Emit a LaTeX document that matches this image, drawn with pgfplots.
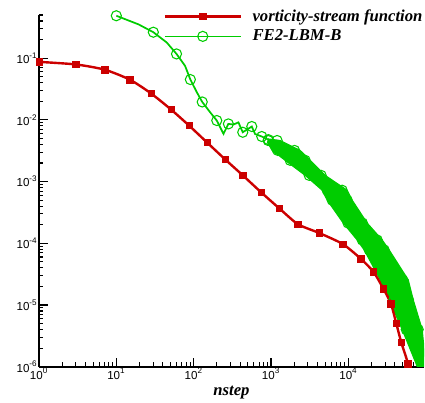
\documentclass[border=0pt]{standalone}
\usepackage{fontspec}
\setmainfont{Liberation Serif}
\setsansfont{Liberation Sans}
\usepackage{pgfplots}
\pgfplotsset{compat=1.18}
\definecolor{vred}{RGB}{204,0,0}
\definecolor{lgreen}{RGB}{0,204,0}

\begin{document}
\begin{tikzpicture}
\begin{axis}[
    scale only axis,
    width=289pt, height=264pt,
    xmode=log, ymode=log,
    log basis x=10, log basis y=10,
    xmin=1, xmax=9.5e4,
    ymin=1e-6, ymax=0.5,
    axis lines*=left,
    axis line style={line width=1.5pt},
    tick align=inside,
    major tick length=6.75pt,
    minor tick length=3.4pt,
    tick style={black, line width=0.8pt},
    ticklabel style={font=\sffamily\fontsize{8.7}{10}\selectfont},
    xticklabel={\pgfmathtruncatemacro{\e}{round(\tick)}10\textsuperscript{\e}},
    yticklabel={\pgfmathtruncatemacro{\e}{round(\tick)}10\textsuperscript{\e}},
    xticklabel style={inner ysep=1pt},
    yticklabel style={inner xsep=1pt},
    xlabel={\bfseries\itshape nstep},
    xlabel style={font=\fontsize{12.5}{14}\selectfont, inner sep=0pt, yshift=-4pt},
    legend style={draw=none, fill=none, inner sep=0pt,
        at={(axis description cs:0.323,1.024)}, anchor=north west,
        font=\bfseries\itshape\fontsize{12.5}{14}\selectfont,
        row sep=1pt,
        /tikz/every odd column/.append style={column sep=6pt}},
    legend cell align=left,
    legend image code/.code={\draw[#1, mark repeat=2, mark phase=2]
        plot coordinates {(0pt,0pt) (28.5pt,0pt) (57pt,0pt)};},
]
\coordinate (bbsw) at (rel axis cs:0,0);
\coordinate (bbne) at (rel axis cs:1,1);

% FE2-LBM-B: noisy band at large nstep
\addplot[fill=lgreen, draw=lgreen, line width=0.8pt, forget plot] coordinates {
    (925,4.9e-3) (1313,4.63e-3) (2378,3.20e-3) (3206,2.21e-3) (5012,1.26e-3)
    (9660,7.24e-4) (11200,5.0e-4) (17500,2.13e-4) (27400,1.13e-4) (33700,7.8e-5)
    (59400,2.56e-5) (68900,1.22e-5) (90100,4.0e-6) (100000,1.0e-6) (100000,5e-7)
    (77600,5e-7) (77600,1.01e-6) (49600,4.0e-6) (33700,1.22e-5) (25800,2.56e-5)
    (16000,7.8e-5) (13000,1.13e-4) (8570,2.13e-4) (5321,5.0e-4) (4581,7.24e-4)
    (2762,1.26e-3) (1522,2.21e-3) (1033,3.2e-3) (900,4.3e-3)
} -- cycle;
\addplot[lgreen, line width=1pt, mark=o, mark size=3.8pt,
    mark options={line width=0.8pt}, forget plot] coordinates {
    (918,4.63e-3) (1199,4.63e-3) (1221,3.2e-3) (2014,3.2e-3) (1767,2.21e-3)
    (2762,2.21e-3) (3112,1.26e-3) (4450,1.26e-3) (5320,7.24e-4) (8310,7.24e-4)
    (6170,5.0e-4) (9640,5.0e-4) (9880,2.13e-4) (15200,2.13e-4) (15100,1.13e-4)
    (23600,1.13e-4) (18600,7.8e-5) (29000,7.8e-5) (30500,2.56e-5) (50300,2.56e-5)
    (38900,1.22e-5) (59700,1.22e-5) (56000,4.0e-6) (80000,4.0e-6)
};
% FE2-LBM-B: early part
\addplot[lgreen, line width=1.3pt, forget plot] coordinates {
    (10,0.486) (19.3,0.353) (30.1,0.263) (44.9,0.179) (60,0.117) (77.4,0.075)
    (90.6,0.045) (110,0.0279) (129,0.0195) (163,0.0133) (199,9.75e-3)
    (243,5.94e-3) (281,8.6e-3) (327,8.4e-3) (379,9.1e-3) (431,6.3e-3)
    (510,7.2e-3) (564,7.8e-3) (622,5.9e-3) (759,5.37e-3) (925,4.78e-3)
    (1188,3.39e-3)
};
\addplot[lgreen, only marks, mark=o, mark size=3.8pt,
    mark options={line width=0.8pt}, forget plot] coordinates {
    (10,0.486) (30.1,0.263) (60,0.117) (90.6,0.045) (129,0.0195) (199,9.75e-3)
    (281,8.6e-3) (431,6.3e-3) (564,7.8e-3) (759,5.37e-3) (925,4.78e-3)
    (1188,3.39e-3)
};

% vorticity-stream function
\addplot[vred, line width=1.8pt, smooth, tension=0.4, mark=square*,
    mark size=2.4pt, mark options={line width=0.4pt, solid},
    mark indices={1,...,22}, forget plot] coordinates {
    (1,0.087) (3,0.079) (7.08,0.065) (15,0.0447) (28.1,0.0268) (51,0.0147)
    (87,0.0081) (149,0.0043) (255,0.00229) (432,0.00126) (745,0.00067)
    (1273,0.00037) (2222,0.000204) (4190,0.000147) (8490,9.7e-5)
    (14500,5.6e-5) (21100,3.45e-5) (28400,1.83e-5) (35500,1.05e-5)
    (41500,5.1e-6) (48200,2.5e-6) (58900,1.12e-6) (62000,6e-7)
};

\addlegendimage{vred, line width=1.8pt, mark=square*, mark size=2.4pt, mark options={line width=0.4pt}}
\addlegendentry{vorticity-stream function}
\addlegendimage{lgreen, line width=1.3pt, mark=o, mark size=3.8pt, mark options={line width=0.8pt}}
\addlegendentry{FE2-LBM-B}
\end{axis}
\pgfresetboundingbox
\path[use as bounding box] ([xshift=-29.25pt,yshift=-27pt]bbsw) rectangle ([xshift=0.75pt,yshift=11.25pt]bbne);
\end{tikzpicture}
\end{document}
